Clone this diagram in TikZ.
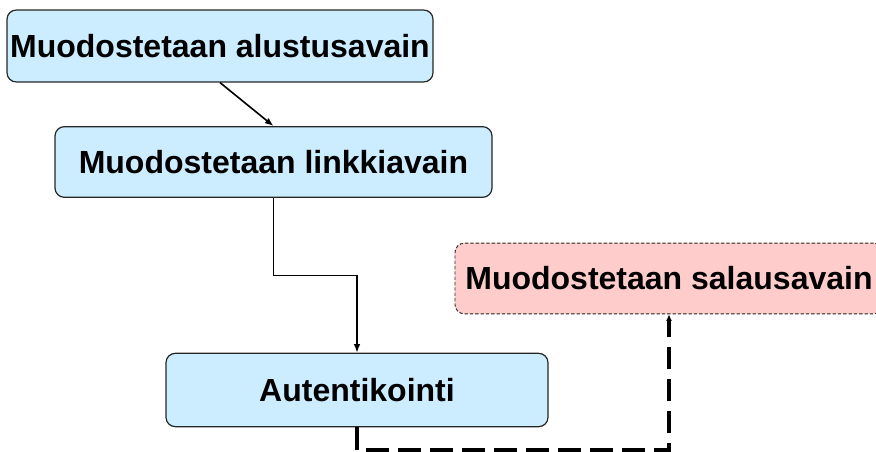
\documentclass[tikz,border=0pt]{standalone}
\usepackage{fontspec}
\setmainfont{Liberation Sans}
\usetikzlibrary{arrows.meta}
\usetikzlibrary{calc}

\definecolor{keyblue}{RGB}{204,236,255}
\definecolor{keypink}{RGB}{255,204,204}

\begin{document}
\begin{tikzpicture}[x=0.75pt,y=-0.75pt]
    \tikzstyle{edge}  = [line width=1.2pt,->,>={Latex[length=6.5pt,width=5pt]},draw=black]
    \tikzstyle{dedge} = [line width=2.8pt,->,>={Latex[length=5pt,width=4.5pt]},draw=black,dash pattern=on 17pt off 7pt]
    \tikzstyle{box}=[
      rectangle,
      rounded corners=7pt,
      draw=black!85,
      fill=keyblue,
      line width=0.9pt,
      inner sep=0pt,
      minimum height=53pt,
      font=\bfseries\fontsize{24}{28}\selectfont,
    ]
    \tikzstyle{dbox}=[box,fill=keypink,line width=0.7pt,dash pattern=on 2.5pt off 1.5pt]

    \useasboundingbox (0,0) rectangle (876,452);

    \node[box,minimum width=319.5pt,minimum height=54pt] (n1) at (220,46) {Muodostetaan alustusavain};
    \node[box,minimum width=327.75pt] (n2) at (273.5,162) {Muodostetaan linkkiavain};
    \node[box,minimum width=286.5pt,minimum height=55pt] (n3) at (357,390) {Autentikointi};
    \node[dbox,minimum width=321pt] (n4) at (669,278.5) {Muodostetaan salausavain};

    \draw[edge] (n1.south)--(n2.north);
    \draw[edge] (n2.south) |- ($(n2.south)!0.5!(n3.north)$) -| (n3.north);
    \draw[dedge] (n3.south) -- ++(0,23) -| (n4.south);
  \end{tikzpicture}
\end{document}
